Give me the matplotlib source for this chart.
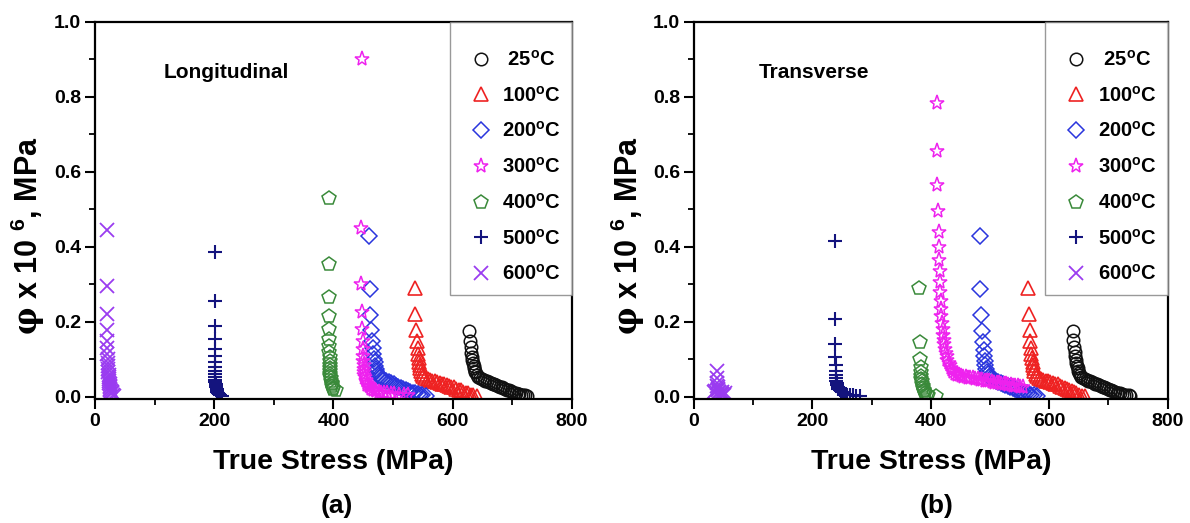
import matplotlib
matplotlib.use('Agg')
import matplotlib.pyplot as plt
from matplotlib.ticker import MultipleLocator

plt.rcParams['font.family'] = ['Liberation Sans', 'DejaVu Sans']
plt.rcParams['font.weight'] = 'bold'
plt.rcParams['mathtext.fontset'] = 'custom'
plt.rcParams['mathtext.rm'] = 'Liberation Sans:bold'
plt.rcParams['mathtext.bf'] = 'Liberation Sans:bold'
plt.rcParams['mathtext.it'] = 'DejaVu Serif'

labels = [' 25$^{\\mathrm{o}}$C', '100$^{\\mathrm{o}}$C', '200$^{\\mathrm{o}}$C', '300$^{\\mathrm{o}}$C',
          '400$^{\\mathrm{o}}$C', '500$^{\\mathrm{o}}$C', '600$^{\\mathrm{o}}$C']

# ---------------- Panel (a) Longitudinal ----------------
L25_x = [628, 629, 630, 631, 632, 633, 634, 635, 636, 637, 638, 640, 643, 646, 649, 652, 655, 658, 661, 664,
         667, 670, 673, 676, 679, 682, 685, 688, 691, 694, 697, 700, 703, 706, 709, 712, 715, 718, 721, 724]
L25_y = [0.175, 0.150, 0.132, 0.118, 0.106, 0.097, 0.089, 0.082, 0.076, 0.070, 0.065, 0.058, 0.052, 0.049,
         0.047, 0.045, 0.043, 0.041, 0.039, 0.037, 0.035, 0.033, 0.031, 0.029, 0.027, 0.025, 0.023, 0.021,
         0.019, 0.017, 0.015, 0.013, 0.011, 0.009, 0.008, 0.007, 0.006, 0.005, 0.004, 0.003]

L100_x = [537, 537, 539, 540, 541, 542, 543, 544, 545, 546, 547, 549, 551, 554, 558, 562, 566, 570, 574, 578,
          582, 586, 590, 594, 598, 602, 606, 610, 614, 618, 622, 626, 630, 634, 640]
L100_y = [0.290, 0.220, 0.178, 0.150, 0.130, 0.115, 0.103, 0.093, 0.084, 0.076, 0.069, 0.062, 0.056, 0.050,
          0.047, 0.045, 0.043, 0.041, 0.039, 0.037, 0.035, 0.033, 0.031, 0.029, 0.027, 0.025, 0.022, 0.019,
          0.017, 0.014, 0.011, 0.009, 0.006, 0.004, 0.001]

L200_x = [459, 461, 462, 463, 464, 466, 467, 468, 469, 470, 471, 472, 474, 476, 478, 481, 485, 489, 493, 497,
          501, 505, 509, 513, 517, 521, 525, 529, 533, 537, 541, 545, 549, 555]
L200_y = [0.430, 0.287, 0.218, 0.178, 0.150, 0.130, 0.115, 0.102, 0.092, 0.083, 0.075, 0.068, 0.062, 0.056,
          0.051, 0.048, 0.045, 0.042, 0.039, 0.036, 0.033, 0.030, 0.027, 0.024, 0.021, 0.018, 0.016, 0.013,
          0.011, 0.009, 0.007, 0.005, 0.004, 0.003]

L300_x = [448, 447, 447, 448, 448, 449, 449, 450, 450, 451, 451, 452, 452, 453, 454, 455, 456, 457, 459, 461,
          463, 466, 469, 472, 476, 480, 485, 490, 496, 502, 510, 518, 525]
L300_y = [0.900, 0.450, 0.300, 0.225, 0.180, 0.150, 0.128, 0.110, 0.096, 0.084, 0.074, 0.066, 0.058, 0.052,
          0.046, 0.041, 0.036, 0.032, 0.028, 0.025, 0.022, 0.019, 0.017, 0.015, 0.013, 0.011, 0.010, 0.009,
          0.008, 0.007, 0.006, 0.005, 0.004]

L400_x = [392, 392, 392, 392, 393, 393, 393, 393, 394, 394, 394, 394, 395, 395, 395, 396, 396, 397, 397, 398,
          399, 400, 404]
L400_y = [0.530, 0.355, 0.265, 0.215, 0.180, 0.155, 0.135, 0.120, 0.107, 0.096, 0.086, 0.077, 0.069, 0.062,
          0.055, 0.049, 0.043, 0.038, 0.033, 0.028, 0.024, 0.020, 0.017]

L500_x = [201, 201, 201, 201, 201, 201, 201, 201, 202, 202, 202, 202, 202, 203, 203, 203, 204, 204, 205, 205,
          206, 207, 208, 210, 213]
L500_y = [0.385, 0.255, 0.190, 0.155, 0.128, 0.108, 0.092, 0.080, 0.070, 0.061, 0.053, 0.046, 0.040, 0.035,
          0.030, 0.026, 0.022, 0.019, 0.016, 0.013, 0.011, 0.009, 0.007, 0.005, 0.003]

L600_x = [21, 21, 21, 21, 21, 21, 21, 22, 22, 22, 22, 22, 23, 23, 23, 24, 24, 25, 25, 25, 26, 26, 27, 28, 29,
          30, 32]
L600_y = [0.445, 0.295, 0.220, 0.178, 0.150, 0.130, 0.114, 0.101, 0.090, 0.081, 0.073, 0.066, 0.059, 0.053,
          0.047, 0.042, 0.037, 0.033, 0.029, 0.025, 0.021, 0.018, 0.015, 0.012, 0.009, 0.006, 0.003]

# ---------------- Panel (b) Transverse ----------------
R25_x = [640, 641, 642, 643, 644, 645, 646, 647, 648, 649, 650, 652, 654, 657, 660, 663, 666, 669, 672, 675,
         678, 681, 684, 687, 690, 693, 696, 699, 702, 705, 708, 711, 714, 717, 720, 723, 726, 730, 734, 737]
R25_y = [0.175, 0.152, 0.134, 0.120, 0.108, 0.098, 0.090, 0.083, 0.076, 0.070, 0.064, 0.058, 0.053, 0.049,
         0.047, 0.045, 0.043, 0.041, 0.039, 0.037, 0.035, 0.033, 0.031, 0.029, 0.027, 0.025, 0.023, 0.021,
         0.019, 0.017, 0.015, 0.013, 0.011, 0.010, 0.009, 0.007, 0.006, 0.005, 0.004, 0.003]

R100_x = [564, 565, 567, 568, 569, 570, 571, 572, 573, 574, 575, 577, 579, 582, 586, 590, 594, 598, 602, 606,
          610, 614, 618, 622, 626, 630, 634, 638, 642, 646, 650, 655, 661]
R100_y = [0.290, 0.220, 0.178, 0.150, 0.130, 0.115, 0.103, 0.093, 0.084, 0.076, 0.069, 0.062, 0.056, 0.050,
          0.047, 0.045, 0.043, 0.041, 0.039, 0.037, 0.035, 0.033, 0.030, 0.027, 0.024, 0.021, 0.018, 0.015,
          0.012, 0.009, 0.006, 0.003, 0.001]

R200_x = [483, 483, 485, 486, 488, 489, 490, 491, 492, 494, 495, 497, 499, 502, 506, 510, 514, 518, 522, 526,
          530, 534, 538, 542, 546, 550, 554, 558, 562, 566, 570, 575, 580]
R200_y = [0.428, 0.288, 0.218, 0.175, 0.145, 0.125, 0.108, 0.095, 0.084, 0.075, 0.067, 0.060, 0.054, 0.049,
          0.046, 0.043, 0.040, 0.037, 0.034, 0.031, 0.028, 0.025, 0.023, 0.020, 0.018, 0.015, 0.013, 0.011,
          0.009, 0.007, 0.005, 0.004, 0.003]

R300_x = [410, 411, 411, 412, 413, 413, 414, 415, 416, 416, 417, 418, 418, 419, 420, 421, 422, 423, 424, 425,
          427, 428, 430, 432, 434, 436, 438, 441, 444, 447, 451, 455, 459, 463, 467, 471, 475, 479, 483, 487,
          491, 495, 499, 503, 507, 511, 515, 519, 523, 527, 531, 535, 539, 543, 547, 551, 555]
R300_y = [0.785, 0.655, 0.565, 0.495, 0.440, 0.400, 0.365, 0.335, 0.305, 0.280, 0.255, 0.235, 0.215, 0.197,
          0.180, 0.165, 0.152, 0.140, 0.128, 0.118, 0.108, 0.099, 0.091, 0.084, 0.077, 0.071, 0.066, 0.062,
          0.058, 0.057, 0.055, 0.054, 0.053, 0.051, 0.050, 0.049, 0.048, 0.047, 0.045, 0.044, 0.043, 0.042,
          0.041, 0.040, 0.038, 0.037, 0.036, 0.035, 0.034, 0.033, 0.032, 0.031, 0.030, 0.029, 0.028, 0.027,
          0.026]

R400_x = [380, 382, 382, 383, 383, 384, 384, 385, 385, 386, 387, 388, 389, 391, 393, 396, 408]
R400_y = [0.290, 0.145, 0.100, 0.080, 0.066, 0.056, 0.048, 0.041, 0.035, 0.029, 0.024, 0.019, 0.015, 0.011,
          0.008, 0.005, 0.003]

R500_x = [238, 238, 238, 238, 239, 239, 239, 240, 240, 241, 242, 243, 244, 246, 248, 250, 253, 256, 259, 263,
          268, 273, 280]
R500_y = [0.415, 0.208, 0.140, 0.105, 0.085, 0.070, 0.058, 0.049, 0.042, 0.036, 0.031, 0.026, 0.022, 0.018,
          0.015, 0.012, 0.010, 0.008, 0.006, 0.005, 0.004, 0.003, 0.002]

R600_x = [38, 38, 39, 39, 40, 40, 41, 42, 43, 45, 47, 50, 34, 36, 48, 52]
R600_y = [0.070, 0.050, 0.038, 0.030, 0.025, 0.020, 0.017, 0.014, 0.012, 0.010, 0.008, 0.006, 0.012, 0.015,
          0.013, 0.010]

colors = ['#111111', '#ee2222', '#2a35dd', '#ee22ee', '#3a8a3a', '#14147e', '#9a3cf0']
markers = ['o', '^', 'D', '*', 'p', '+', 'x']
msizes = [9, 10.5, 8, 11, 10.5, 10, 9.5]
mews = [1.1, 1.2, 1.1, 1.1, 1.1, 1.5, 1.3]

left_series = [(L25_x, L25_y), (L100_x, L100_y), (L200_x, L200_y), (L300_x, L300_y),
               (L400_x, L400_y), (L500_x, L500_y), (L600_x, L600_y)]
right_series = [(R25_x, R25_y), (R100_x, R100_y), (R200_x, R200_y), (R300_x, R300_y),
                (R400_x, R400_y), (R500_x, R500_y), (R600_x, R600_y)]

fig = plt.figure(figsize=(11.9, 5.23), dpi=100)
ax1 = fig.add_axes([0.0798, 0.237, 0.4008, 0.721])
ax2 = fig.add_axes([0.5832, 0.237, 0.398, 0.721])


def draw(ax, series, title, tx):
    for (xs, ys), c, m, s, mw, lab in zip(series, colors, markers, msizes, mews, labels):
        ax.plot(xs, ys, linestyle='none', marker=m, markersize=s, markerfacecolor='none',
                markeredgecolor=c, markeredgewidth=mw, label=lab)
    ax.set_xlim(0, 800)
    ax.set_ylim(-0.006, 1.0)
    ax.xaxis.set_major_locator(MultipleLocator(200))
    ax.xaxis.set_minor_locator(MultipleLocator(100))
    ax.yaxis.set_major_locator(MultipleLocator(0.2))
    ax.yaxis.set_minor_locator(MultipleLocator(0.1))
    ax.yaxis.set_major_formatter(plt.FuncFormatter(lambda v, p: f'{v:.1f}'))
    ax.tick_params(which='major', direction='out', length=7, width=1.5, labelsize=14, pad=3)
    ax.tick_params(which='minor', direction='out', length=4.5, width=1.3)
    for sp in ax.spines.values():
        sp.set_linewidth(1.6)
    ax.set_xlabel('True Stress (MPa)', fontsize=20.5, fontweight='bold', labelpad=14)
    ax.set_ylabel('$\\varphi$ x 10 $^{\\mathrm{6}}$, MPa', fontsize=22, fontweight='bold', va='center')
    ax.yaxis.set_label_coords(-0.14, 0.433)
    ax.text(tx, 0.865, title, transform=ax.transAxes, fontsize=15, fontweight='bold', va='center')
    leg = ax.legend(loc='upper right', borderaxespad=0, frameon=True, fancybox=False,
                    labelspacing=0.78, handletextpad=0.05, borderpad=0.55, handlelength=2.0,
                    prop={'weight': 'bold', 'size': 14.5}, title=' ', title_fontsize=1)
    leg.get_frame().set_edgecolor('#808080')
    leg.get_frame().set_linewidth(1.0)


draw(ax1, left_series, 'Longitudinal', 0.143)
draw(ax2, right_series, 'Transverse', 0.136)

fig.text(0.283, 0.033, '(a)', fontsize=19, fontweight='bold', ha='center', va='center')
fig.text(0.787, 0.033, '(b)', fontsize=19, fontweight='bold', ha='center', va='center')

fig.savefig('out.png', dpi=100)
